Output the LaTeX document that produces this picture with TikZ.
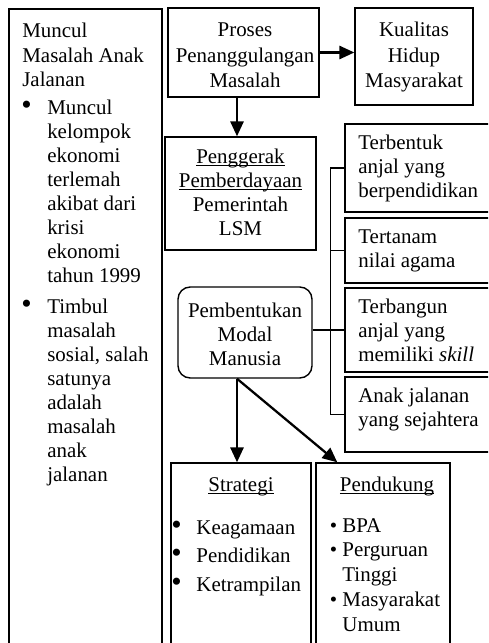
\documentclass[tikz,border=0pt]{standalone}
\usepackage{fontspec}
\setmainfont{Liberation Serif}
\usetikzlibrary{arrows.meta,fit,calc}
\newcommand{\rowsl}[1]{\begin{tabular}[t]{@{}l@{}}#1\end{tabular}}
\newcommand{\rowsc}[1]{\begin{tabular}[t]{@{}c@{}}#1\end{tabular}}
\newcommand{\items}[2]{\begin{tabular}[t]{@{}l@{\hspace{#1}}l@{}}#2\end{tabular}}
\newcommand{\ul}[1]{\underline{\raisebox{0pt}[\height][0pt]{#1}}}
\newcommand{\bigdot}{{\fontsize{17}{0}\selectfont\textbullet}}
\begin{document}
\begin{tikzpicture}[x=0.573pt,y=-0.573pt,
  box/.style={draw,line width=0.8pt,inner sep=0pt},
  txt/.style={inner sep=0pt,anchor=base west,font=\fontsize{12}{13.8}\selectfont},
  ctxt/.style={txt,anchor=base},
  arr/.style={line width=1.3pt,-{Triangle[length=8.5pt,width=7.5pt]}},
  link/.style={line width=0.7pt}]
\useasboundingbox (0,0) rectangle (488,643);
\clip (0,0) rectangle (488,643);
\node[box,fit={(9,9)(162,660)}] (masalah) {};
\node[box,fit={(168,8)(319,97)}] (proses) {};
\node[box,fit={(355,8)(473,105)}] (kualitas) {};
\node[box,fit={(165,137)(316,250)}] (penggerak) {};
\node[box,rounded corners=7pt,fit={(178,287)(312,378)}] (modal) {};
\node[box,fit={(345,124)(510,212)}] (terbentuk) {};
\node[box,fit={(345,218)(510,283)}] (tertanam) {};
\node[box,fit={(345,288)(510,372)}] (terbangun) {};
\node[box,fit={(345,377)(510,452)}] (sejahtera) {};
\node[box,fit={(171,463)(311,660)}] (strategi) {};
\node[box,fit={(316,463)(450,660)}] (pendukung) {};
\node[txt] (masalahT) at (22,38) {\rowsl{Muncul\\Masalah Anak\\Jalanan}};
\node[txt] (poin1) at (21,114) {\items{8.9pt}{\bigdot & Muncul\\ & kelompok\\ & ekonomi\\ & terlemah\\ & akibat dari\\ & krisi\\ & ekonomi\\ & tahun 1999}};
\node[txt] (poin2) at (21,313) {\items{8.9pt}{\bigdot & Timbul\\ & masalah\\ & sosial, salah\\ & satunya\\ & adalah\\ & masalah\\ & anak\\ & jalanan}};
\node[ctxt,font=\fontsize{12}{14.5}\selectfont] (prosesT) at (245,37) {\rowsc{Proses\\Penanggulangan\\Masalah}};
\node[ctxt,font=\fontsize{12}{14.5}\selectfont] (kualitasT) at (414,37) {\rowsc{Kualitas\\Hidup\\Masyarakat}};
\node[ctxt] (penggerakT) at (240.5,163) {\rowsc{\ul{Penggerak}\\\ul{Pemberdayaan}\\Pemerintah\\LSM}};
\node[ctxt] (modalT) at (245,317) {\rowsc{Pembentukan\\Modal\\Manusia}};
\node[txt] (terbentukT) at (358,149) {\rowsl{Terbentuk\\anjal yang\\berpendidikan}};
\node[txt] (tertanamT) at (358,243) {\rowsl{Tertanam\\nilai agama}};
\node[txt] (terbangunT) at (358,313) {\rowsl{Terbangun\\anjal yang\\memiliki \textit{skill}}};
\node[txt] (sejahteraT) at (358,402) {\rowsl{Anak jalanan\\yang sejahtera}};
\node[ctxt] (strategiT) at (241,491) {\ul{Strategi}};
\node[txt,font=\fontsize{12}{16.6}\selectfont] (strategiL) at (171,534) {\items{8.4pt}{\bigdot & Keagamaan\\\bigdot & Pendidikan\\\bigdot & Ketrampilan}};
\node[ctxt] (pendukungT) at (387,491) {\ul{Pendukung}};
\node[txt,font=\fontsize{12}{14.3}\selectfont] (pendukungL) at (329.5,532) {\items{3pt}{\textbullet & BPA\\\textbullet & Perguruan\\ & Tinggi\\\textbullet & Masyarakat\\ & Umum}};
\draw[arr] (proses.east) -- (proses.east -| kualitas.west);
\draw[arr] ($(proses.south)+(-6.5,0)$) -- ($(penggerak.north)+(-3.5,0)$);
\draw[arr] ($(modal.south)+(-8,0)$) -- ($(strategi.north)+(-4,0)$);
\draw[arr] ($(modal.south)+(-8,0)$) -- ($(pendukung.north west)+(22,0)$);
\draw[link] (terbentuk.west) -- ++(-14,0) |- (sejahtera.west);
\draw[link] (tertanam.west) -- ++(-14,0);
\draw[link] (modal.east |- terbangun.west) -- (terbangun.west);
\end{tikzpicture}
\end{document}
